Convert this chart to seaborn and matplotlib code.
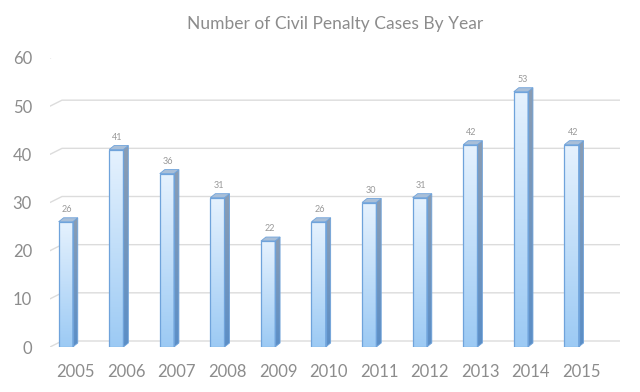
import numpy as np
import pandas as pd
import matplotlib
matplotlib.use("Agg")
import matplotlib.pyplot as plt
import seaborn as sb
from matplotlib.colors import LinearSegmentedColormap
from matplotlib.patches import Polygon
from matplotlib.lines import Line2D
from matplotlib.transforms import IdentityTransform, ScaledTranslation

# data
years = ["2005", "2006", "2007", "2008", "2009", "2010",
         "2011", "2012", "2013", "2014", "2015"]
cases = [26, 41, 36, 31, 22, 26, 30, 31, 42, 53, 42]
yticks = [0, 10, 20, 30, 40, 50, 60]
title = "Number of Civil Penalty Cases By Year"

df = pd.DataFrame({"year": years, "cases": cases})

sb.set_style("white")
plt.rcParams["font.family"] = ["Lato", "DejaVu Sans"]

GREY = "#8c8c8c"
EDGE = "#6fa3db"
fig = plt.figure(figsize=(6.4, 3.92), dpi=100)
ax = fig.add_axes([50 / 640, 45 / 392, 570 / 640, 289 / 392])

sb.barplot(data=df, x="year", y="cases", width=0.28, color="#cfe5fa",
           edgecolor=EDGE, linewidth=0.9, ax=ax, zorder=3)

ax.set_xlim(-0.31, 10.96)
ax.set_ylim(0, 60)
ax.set_yticks(yticks)
ax.set_xlabel("")
ax.set_ylabel("")
for s in ax.spines.values():
    s.set_visible(False)
ax.tick_params(axis="y", length=0, pad=13, labelsize=12, labelcolor=GREY)
ax.tick_params(axis="x", length=0, pad=12, labelsize=12, labelcolor=GREY)
shift = ScaledTranslation(10 / 100, 0, fig.dpi_scale_trans)
for lab in ax.get_xticklabels():
    lab.set_transform(lab.get_transform() + shift)
ax.set_title(title, fontsize=12.5, color=GREY, pad=21)

fig.canvas.draw()
td = ax.transData
depth_x, depth_y = 5, 4     # pixel depth of the bar boxes
back_x, back_y = 12, 6      # offset of the back wall

# gridlines on the back wall with a slanted lead-in
x_left = td.transform((-0.31, 0))[0]
x_right = td.transform((10.96, 0))[0]
for v in yticks:
    py = td.transform((0, v))[1]
    ln = Line2D([x_left, x_left + back_x, x_right],
                [py, py + back_y, py + back_y],
                color="#dcdcdc", lw=1.0, transform=IdentityTransform(), zorder=1)
    ax.add_artist(ln)

front = LinearSegmentedColormap.from_list("front", ["#9ccaf4", "#e6f2fe"])
side = LinearSegmentedColormap.from_list("side", ["#5b8ec6", "#8b9db3"])
grad = np.linspace(0, 1, 256).reshape(-1, 1)

for bar, val in zip(ax.patches, cases):
    x0, w = bar.get_x(), bar.get_width()
    im = ax.imshow(grad, cmap=front, origin="lower", aspect="auto",
                   extent=[x0, x0 + w, 0, val], zorder=3.5)
    im.set_clip_path(bar)
    (ax0, ay0), (ax1, ay1) = td.transform([(x0, 0), (x0 + w, val)])
    side_poly = Polygon([(ax1, ay0), (ax1 + depth_x, ay0 + depth_y),
                         (ax1 + depth_x, ay1 + depth_y), (ax1, ay1)],
                        closed=True, transform=IdentityTransform(),
                        facecolor="none", edgecolor=EDGE, lw=0.6, zorder=4)
    ax.add_artist(side_poly)
    sim = ax.imshow(grad, cmap=side, origin="lower", aspect="auto",
                    extent=[x0 + w, x0 + w + depth_x / 50.56, 0, val + 0.8],
                    zorder=3.6)
    sim.set_clip_path(side_poly)
    top_poly = Polygon([(ax0, ay1), (ax1, ay1), (ax1 + depth_x, ay1 + depth_y),
                        (ax0 + depth_x, ay1 + depth_y)],
                       closed=True, transform=IdentityTransform(),
                       facecolor="#a9bfd8", edgecolor=EDGE, lw=0.6, zorder=4)
    ax.add_artist(top_poly)
    bar.set_zorder(4.2)
    bar.set_facecolor("none")
    ax.annotate(str(val), (x0 + w / 2, val), xytext=(1, 5.5),
                textcoords="offset points", ha="center", va="bottom",
                fontsize=6.5, color="#999999", zorder=5)

fig.savefig("out.png", dpi=100)
